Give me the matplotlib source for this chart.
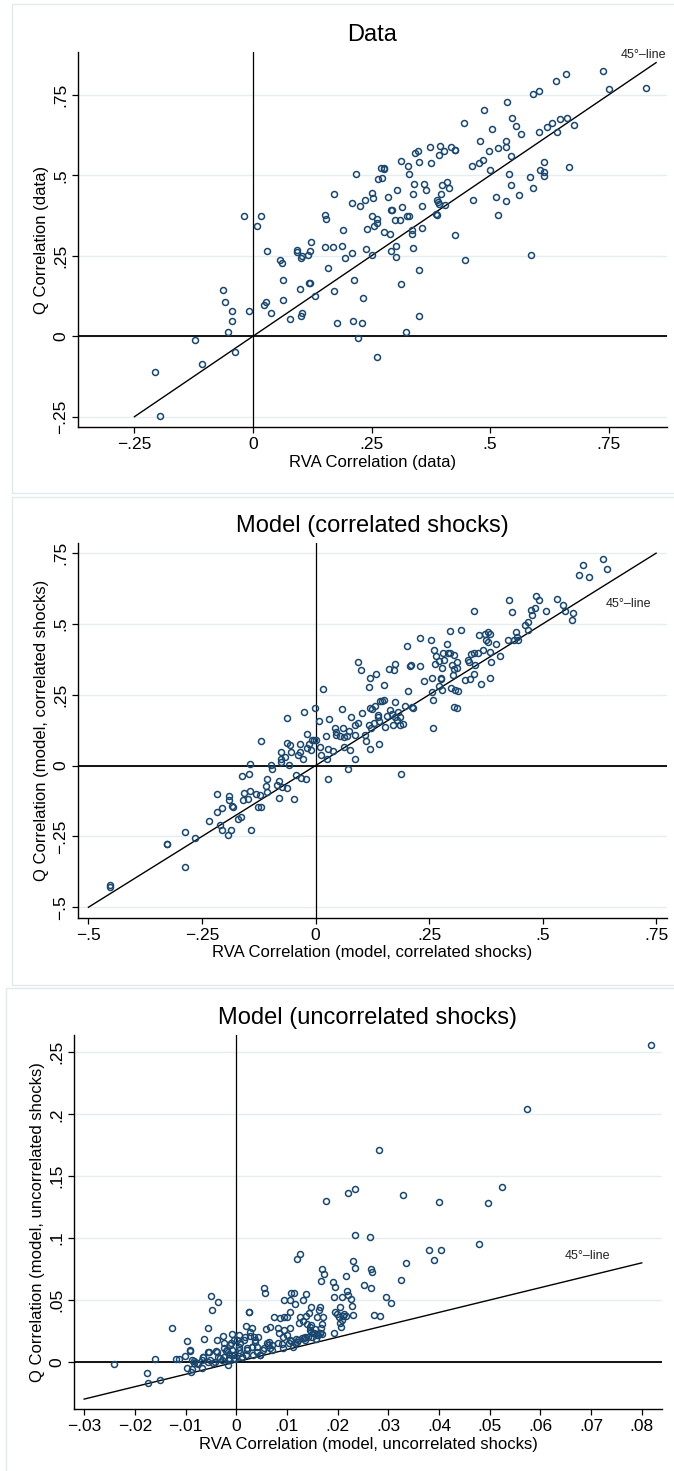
import matplotlib
matplotlib.use("Agg")
import matplotlib.pyplot as plt
from matplotlib.patches import Rectangle

plt.rcParams['font.family'] = ['Liberation Sans', 'DejaVu Sans']

# ---------------- Data ----------------
# Panel 1: data
data_x = [-0.207, -0.196, -0.122, -0.107, -0.037, -0.063, -0.059, -0.044, -0.044, -0.052,
          -0.008, -0.019, 0.016, 0.009, 0.030, 0.023, 0.028, 0.037, 0.057, 0.062,
          0.063, 0.063, 0.077, 0.092, 0.092, 0.101, 0.103, 0.100, 0.103, 0.102,
          0.115, 0.123, 0.121, 0.119, 0.121, 0.131, 0.152, 0.153, 0.152, 0.159,
          0.169, 0.171, 0.170, 0.177, 0.187, 0.189, 0.194, 0.208, 0.209, 0.213,
          0.211, 0.218, 0.226, 0.221, 0.229, 0.236, 0.239, 0.233, 0.241, 0.250,
          0.254, 0.251, 0.251, 0.255, 0.261, 0.261, 0.264, 0.269, 0.273, 0.276,
          0.277, 0.261, 0.276, 0.285, 0.288, 0.290, 0.291, 0.293, 0.300, 0.301,
          0.301, 0.303, 0.309, 0.313, 0.314, 0.312, 0.323, 0.324, 0.328, 0.326,
          0.330, 0.335, 0.336, 0.337, 0.338, 0.340, 0.342, 0.347, 0.349, 0.349,
          0.350, 0.357, 0.356, 0.361, 0.364, 0.374, 0.376, 0.385, 0.387, 0.389,
          0.391, 0.393, 0.394, 0.393, 0.396, 0.399, 0.402, 0.405, 0.409, 0.413,
          0.417, 0.425, 0.426, 0.427, 0.444, 0.446, 0.461, 0.464, 0.476, 0.478,
          0.485, 0.488, 0.497, 0.500, 0.505, 0.513, 0.516, 0.517, 0.533, 0.534,
          0.533, 0.536, 0.540, 0.543, 0.545, 0.547, 0.554, 0.561, 0.566, 0.585,
          0.586, 0.590, 0.591, 0.603, 0.603, 0.605, 0.613, 0.613, 0.614, 0.620,
          0.630, 0.638, 0.642, 0.648, 0.661, 0.663, 0.667, 0.676, 0.739, 0.750,
          0.829]
data_y = [-0.111, -0.247, -0.011, -0.086, -0.048, 0.143, 0.107, 0.079, 0.047, 0.012,
          0.078, 0.374, 0.375, 0.342, 0.266, 0.097, 0.106, 0.071, 0.237, 0.228,
          0.176, 0.111, 0.055, 0.269, 0.261, 0.243, 0.248, 0.148, 0.071, 0.062,
          0.253, 0.292, 0.264, 0.166, 0.164, 0.126, 0.376, 0.364, 0.276, 0.213,
          0.276, 0.441, 0.141, 0.042, 0.280, 0.331, 0.243, 0.413, 0.259, 0.176,
          0.047, 0.505, 0.406, -0.006, 0.041, 0.422, 0.270, 0.119, 0.332, 0.445,
          0.429, 0.375, 0.253, 0.343, 0.352, 0.365, 0.487, 0.524, 0.492, 0.518,
          0.524, -0.064, 0.325, 0.433, 0.317, 0.264, 0.391, 0.392, 0.360, 0.281,
          0.247, 0.455, 0.360, 0.543, 0.400, 0.161, 0.013, 0.372, 0.373, 0.528,
          0.503, 0.329, 0.319, 0.443, 0.274, 0.472, 0.569, 0.575, 0.541, 0.207,
          0.063, 0.405, 0.337, 0.473, 0.453, 0.588, 0.537, 0.379, 0.376, 0.422,
          0.418, 0.412, 0.592, 0.562, 0.441, 0.471, 0.576, 0.408, 0.479, 0.460,
          0.587, 0.580, 0.577, 0.315, 0.663, 0.237, 0.528, 0.422, 0.539, 0.605,
          0.546, 0.703, 0.575, 0.516, 0.645, 0.434, 0.376, 0.584, 0.605, 0.589,
          0.421, 0.728, 0.505, 0.560, 0.471, 0.677, 0.652, 0.438, 0.629, 0.495,
          0.251, 0.459, 0.753, 0.761, 0.636, 0.516, 0.542, 0.510, 0.497, 0.650,
          0.663, 0.793, 0.636, 0.675, 0.815, 0.679, 0.525, 0.656, 0.825, 0.768,
          0.772]

# Panel 2: model, correlated shocks
corr_x = [-0.453, -0.453, -0.326, -0.326, -0.288, -0.287, -0.265, -0.234, -0.217, -0.216,
          -0.210, -0.207, -0.206, -0.191, -0.190, -0.192, -0.187, -0.183, -0.182, -0.170,
          -0.165, -0.161, -0.159, -0.157, -0.146, -0.145, -0.148, -0.144, -0.142, -0.130,
          -0.127, -0.121, -0.122, -0.120, -0.107, -0.108, -0.107, -0.098, -0.095, -0.084,
          -0.081, -0.080, -0.077, -0.075, -0.075, -0.073, -0.067, -0.063, -0.063, -0.062,
          -0.059, -0.056, -0.054, -0.048, -0.044, -0.038, -0.035, -0.034, -0.031, -0.027,
          -0.026, -0.021, -0.019, -0.018, -0.014, -0.010, -0.008, -0.004, -0.001, 0.000,
          0.008, 0.010, 0.012, 0.016, 0.023, 0.025, 0.027, 0.027, 0.030, 0.038,
          0.044, 0.045, 0.046, 0.053, 0.059, 0.061, 0.063, 0.063, 0.069, 0.072,
          0.074, 0.076, 0.079, 0.086, 0.087, 0.087, 0.093, 0.094, 0.100, 0.102,
          0.109, 0.112, 0.117, 0.119, 0.118, 0.121, 0.121, 0.123, 0.125, 0.129,
          0.131, 0.134, 0.137, 0.138, 0.139, 0.140, 0.142, 0.146, 0.151, 0.151,
          0.153, 0.157, 0.162, 0.165, 0.168, 0.170, 0.172, 0.174, 0.176, 0.176,
          0.179, 0.181, 0.186, 0.186, 0.188, 0.193, 0.198, 0.202, 0.203, 0.209,
          0.211, 0.212, 0.214, 0.229, 0.231, 0.239, 0.255, 0.256, 0.257, 0.258,
          0.259, 0.262, 0.263, 0.266, 0.272, 0.273, 0.276, 0.277, 0.279, 0.279,
          0.280, 0.283, 0.290, 0.291, 0.297, 0.297, 0.299, 0.301, 0.303, 0.304,
          0.306, 0.306, 0.307, 0.311, 0.312, 0.312, 0.313, 0.321, 0.329, 0.336,
          0.338, 0.340, 0.343, 0.348, 0.348, 0.348, 0.352, 0.358, 0.361, 0.364,
          0.368, 0.373, 0.375, 0.380, 0.380, 0.384, 0.384, 0.386, 0.385, 0.397,
          0.407, 0.423, 0.426, 0.432, 0.438, 0.441, 0.443, 0.445, 0.462, 0.467,
          0.468, 0.474, 0.477, 0.484, 0.485, 0.493, 0.507, 0.531, 0.544, 0.550,
          0.564, 0.567, 0.580, 0.589, 0.602, 0.633, 0.642]
corr_y = [-0.420, -0.428, -0.275, -0.277, -0.235, -0.359, -0.256, -0.195, -0.099, -0.164,
          -0.208, -0.229, -0.149, -0.107, -0.122, -0.246, -0.226, -0.144, -0.147, -0.187,
          -0.180, -0.035, -0.121, -0.096, -0.028, 0.005, -0.118, -0.089, -0.227, -0.101,
          -0.146, -0.146, -0.102, 0.088, -0.046, -0.071, -0.094, 0.001, -0.013, -0.069,
          -0.053, -0.116, 0.012, 0.024, 0.047, -0.076, 0.029, 0.167, 0.080, -0.078,
          0.001, 0.074, 0.047, -0.118, -0.033, 0.036, 0.078, 0.048, -0.044, 0.022,
          0.188, -0.049, 0.113, 0.061, 0.076, 0.056, 0.089, 0.091, 0.204, 0.092,
          0.159, 0.065, 0.039, 0.271, 0.105, 0.024, 0.059, -0.047, 0.165, 0.051,
          0.133, 0.107, 0.120, 0.105, 0.199, 0.133, 0.102, 0.065, 0.106, -0.013,
          0.121, 0.054, 0.173, 0.022, 0.109, 0.142, 0.152, 0.365, 0.339, 0.187,
          0.107, 0.086, 0.279, 0.308, 0.145, 0.205, 0.060, 0.134, 0.200, 0.151,
          0.209, 0.325, 0.180, 0.172, 0.075, 0.158, 0.227, 0.229, 0.286, 0.232,
          0.136, 0.174, 0.340, 0.198, 0.181, 0.145, 0.339, 0.224, 0.359, 0.171,
          0.162, 0.189, 0.172, 0.145, -0.028, 0.147, 0.209, 0.421, 0.262, 0.351,
          0.355, 0.206, 0.204, 0.353, 0.449, 0.299, 0.445, 0.309, 0.261, 0.233,
          0.132, 0.408, 0.358, 0.387, 0.368, 0.280, 0.308, 0.305, 0.345, 0.268,
          0.399, 0.372, 0.428, 0.399, 0.399, 0.476, 0.273, 0.356, 0.321, 0.341,
          0.392, 0.208, 0.268, 0.365, 0.344, 0.202, 0.265, 0.480, 0.302, 0.374,
          0.365, 0.306, 0.395, 0.546, 0.325, 0.396, 0.355, 0.399, 0.460, 0.289,
          0.408, 0.465, 0.444, 0.473, 0.436, 0.465, 0.400, 0.367, 0.308, 0.431,
          0.388, 0.445, 0.584, 0.544, 0.445, 0.471, 0.454, 0.445, 0.496, 0.506,
          0.478, 0.548, 0.532, 0.556, 0.598, 0.586, 0.546, 0.589, 0.568, 0.547,
          0.515, 0.539, 0.672, 0.708, 0.667, 0.729, 0.693]

# Panel 3: model, uncorrelated shocks
unc_x = [0.0818, 0.0574, 0.0282, 0.0525, 0.0234, 0.0221, 0.0330, 0.0177, 0.0400, 0.0496,
         0.0234, 0.0263, 0.0478, 0.0381, 0.0404, 0.0391, 0.0335, 0.0125, 0.0119, 0.0230,
         0.0235, 0.0266, 0.0267, 0.0169, 0.0173, 0.0216, 0.0325, 0.0167, 0.0190, 0.0195,
         0.0253, 0.0265, 0.0055, 0.0056, 0.0218, 0.0220, 0.0295, 0.0305, 0.0192, 0.0209,
         0.0227, 0.0229, 0.0230, 0.0272, 0.0283, 0.0108, 0.0114, 0.0137, 0.0095, 0.0106,
         0.0132, 0.0116, 0.0148, 0.0165, -0.0049, -0.0036, -0.0047, -0.0126, -0.0055, -0.0098,
         -0.0064, -0.0092, -0.0102, -0.0118, -0.0112, -0.0161, -0.0241, -0.0176, -0.0174, -0.0151,
         -0.0098, -0.0088, -0.0089, -0.0084, -0.0075, -0.0067, -0.0066, -0.0056, -0.0053, -0.0045,
         -0.0039, -0.0037, -0.0031, -0.0026, -0.0025, -0.0020, -0.0017, -0.0015, -0.0014, -0.0011,
         -0.0008, -0.0008, -0.0005, -0.0003, 0.0002, 0.0006, 0.0006, 0.0008, 0.0012, 0.0015,
         0.0019, 0.0020, 0.0022, 0.0025, 0.0026, 0.0028, 0.0031, 0.0031, 0.0034, 0.0036,
         0.0037, 0.0042, 0.0043, 0.0046, 0.0052, 0.0058, 0.0060, 0.0063, 0.0064, 0.0066,
         0.0067, 0.0071, 0.0075, 0.0082, 0.0084, 0.0086, 0.0090, 0.0092, 0.0094, 0.0095,
         0.0100, 0.0100, 0.0104, 0.0106, 0.0106, 0.0109, 0.0115, 0.0118, 0.0121, 0.0124,
         0.0126, 0.0131, 0.0133, 0.0135, 0.0137, 0.0139, 0.0142, 0.0143, 0.0145, 0.0147,
         0.0148, 0.0150, 0.0154, 0.0156, 0.0158, 0.0159, 0.0162, 0.0164, 0.0165, 0.0168,
         0.0170, 0.0170, 0.0172, 0.0192, 0.0195, 0.0198, 0.0203, 0.0204, 0.0205, 0.0207,
         0.0209, 0.0210, 0.0213, 0.0216,
         -0.0091, -0.0088, -0.0084, -0.0078, -0.0068, -0.0065, -0.0055, -0.0051, -0.0042, -0.0038,
         -0.0035, -0.0028, -0.0025, -0.0025, -0.0018, -0.0015, -0.0012, -0.0009, -0.0005, -0.0005,
         0.0005, 0.0008, 0.0011, 0.0018, 0.0021, 0.0027, 0.0031, 0.0037, 0.0041, 0.0047,
         0.0054, 0.0070, 0.0083, 0.0093, 0.0106, 0.0113, 0.0120, 0.0129, 0.0136, 0.0146,
         0.0152, 0.0159, 0.0166]
unc_y = [0.2560, 0.2045, 0.1710, 0.1414, 0.1395, 0.1366, 0.1347, 0.1301, 0.1293, 0.1285,
         0.1029, 0.1010, 0.0951, 0.0905, 0.0905, 0.0827, 0.0797, 0.0870, 0.0830, 0.0819,
         0.0760, 0.0752, 0.0725, 0.0754, 0.0714, 0.0695, 0.0660, 0.0657, 0.0647, 0.0603,
         0.0625, 0.0595, 0.0595, 0.0560, 0.0574, 0.0541, 0.0523, 0.0474, 0.0523, 0.0528,
         0.0506, 0.0455, 0.0377, 0.0377, 0.0369, 0.0558, 0.0558, 0.0550, 0.0501, 0.0498,
         0.0498, 0.0469, 0.0447, 0.0447, 0.0536, 0.0488, 0.0423, 0.0277, 0.0277, 0.0170,
         0.0186, 0.0089, 0.0046, 0.0027, 0.0027, 0.0024, -0.0013, -0.0092, -0.0170, -0.0143,
         -0.0051, -0.0054, -0.0078, 0.0008, -0.0019, -0.0046, 0.0043, 0.0003, 0.0081, -0.0011,
         0.0089, 0.0178, 0.0030, 0.0210, 0.0116, 0.0089, -0.0024, 0.0062, 0.0030, 0.0151,
         0.0226, 0.0097, 0.0057, 0.0022, 0.0180, 0.0218, 0.0124, 0.0070, 0.0043, 0.0178,
         0.0057, 0.0294, 0.0116, 0.0407, 0.0401, 0.0210, 0.0277, 0.0124, 0.0057, 0.0205,
         0.0164, 0.0124, 0.0199, 0.0057, 0.0097, 0.0264, 0.0151, 0.0137, 0.0164, 0.0286,
         0.0110, 0.0097, 0.0366, 0.0272, 0.0232, 0.0353, 0.0143, 0.0116, 0.0366, 0.0259,
         0.0218, 0.0366, 0.0151, 0.0272, 0.0404, 0.0170, 0.0151, 0.0183, 0.0178, 0.0313,
         0.0366, 0.0331, 0.0197, 0.0178, 0.0372, 0.0304, 0.0205, 0.0393, 0.0280, 0.0245,
         0.0299, 0.0205, 0.0232, 0.0264, 0.0183, 0.0366, 0.0218, 0.0420, 0.0232, 0.0272,
         0.0307, 0.0226, 0.0366, 0.0237, 0.0401, 0.0388, 0.0361, 0.0447, 0.0313, 0.0286,
         0.0339, 0.0374, 0.0385, 0.0372,
         0.0097, 0.0016, -0.0011, -0.0011, 0.0016, 0.0043, 0.0084, 0.0016, 0.0003, 0.0084,
         0.0043, 0.0016, 0.0151, 0.0043, 0.0097, 0.0016, 0.0137, 0.0057, 0.0178, 0.0030,
         0.0097, 0.0151, 0.0043, 0.0205, 0.0097, 0.0245, 0.0124, 0.0178, 0.0084, 0.0057,
         0.0110, 0.0137, 0.0151, 0.0205, 0.0178, 0.0124, 0.0164, 0.0191, 0.0205, 0.0259,
         0.0232, 0.0218, 0.0232]

# 45-degree reference line end points
line1 = [-0.25, 0.85]
line2 = [-0.5, 0.75]
line3 = [-0.03, 0.08]

titles = ["Data", "Model (correlated shocks)", "Model (uncorrelated shocks)"]
xlabels = ["RVA Correlation (data)", "RVA Correlation (model, correlated shocks)",
           "RVA Correlation (model, uncorrelated shocks)"]
ylabels = ["Q Correlation (data)", "Q Correlation (model, correlated shocks)",
           "Q Correlation (model, uncorrelated shocks)"]

ticks1 = [-0.25, 0, 0.25, 0.5, 0.75]
ticklab1 = ["\u2212.25", "0", ".25", ".5", ".75"]
ticks2 = [-0.5, -0.25, 0, 0.25, 0.5, 0.75]
ticklab2 = ["\u2212.5", "\u2212.25", "0", ".25", ".5", ".75"]
xticks3 = [-0.03, -0.02, -0.01, 0, 0.01, 0.02, 0.03, 0.04, 0.05, 0.06, 0.07, 0.08]
xticklab3 = ["\u2212.03", "\u2212.02", "\u2212.01", "0", ".01", ".02", ".03", ".04",
             ".05", ".06", ".07", ".08"]
yticks3 = [0, 0.05, 0.1, 0.15, 0.2, 0.25]
yticklab3 = ["0", ".05", ".1", ".15", ".2", ".25"]

# ---------------- Figure ----------------
W, H = 674, 1471
DPI = 100
fig = plt.figure(figsize=(W / DPI, H / DPI), dpi=DPI)
fig.patch.set_facecolor("white")

NAVY = "#1a476f"
GRID = "#e4edf0"
FRAME = "#e3eaee"


def rect(l, t, r, b):
    return [l / W, 1 - b / H, (r - l) / W, (b - t) / H]


# faint outer frames of each graph
for (l, t, r, b) in [(12, 4, 676, 493), (12, 497, 676, 985), (6, 988, 676, 1473)]:
    fig.patches.append(Rectangle((l / W, 1 - b / H), (r - l) / W, (b - t) / H,
                                 transform=fig.transFigure, fill=False,
                                 edgecolor=FRAME, linewidth=1.0))

panels = [
    dict(pos=(78, 52, 667, 427), x=data_x, y=data_y, line=line1,
         xlim=(-0.369, 0.873), ylim=(-0.282, 0.883),
         xt=ticks1, xtl=ticklab1, yt=ticks1, ytl=ticklab1, lab=(0.776, 0.873)),
    dict(pos=(78, 543, 667, 918), x=corr_x, y=corr_y, line=line2,
         xlim=(-0.523, 0.774), ylim=(-0.538, 0.786),
         xt=ticks2, xtl=ticklab2, yt=ticks2, ytl=ticklab2, lab=(0.640, 0.572)),
    dict(pos=(74, 1035, 662, 1409), x=unc_x, y=unc_y, line=line3,
         xlim=(-0.032, 0.0840), ylim=(-0.038, 0.264),
         xt=xticks3, xtl=xticklab3, yt=yticks3, ytl=yticklab3, lab=(0.0648, 0.0857)),
]

for i, p in enumerate(panels):
    ax = fig.add_axes(rect(*p["pos"]))
    ax.set_xlim(*p["xlim"])
    ax.set_ylim(*p["ylim"])
    for s in ["top", "right"]:
        ax.spines[s].set_visible(False)
    for s in ["left", "bottom"]:
        ax.spines[s].set_linewidth(1.0)
        ax.spines[s].set_color("black")
    ax.set_yticks(p["yt"])
    ax.set_yticklabels(p["ytl"], rotation=90, va="center", fontsize=12.5)
    ax.set_xticks(p["xt"])
    ax.set_xticklabels(p["xtl"], fontsize=12.5)
    ax.tick_params(direction="out", length=4.5, width=0.9, pad=2.5)
    ax.yaxis.grid(True, color=GRID, linewidth=1.0)
    ax.set_axisbelow(True)
    ax.axhline(0, color="black", linewidth=1.3, zorder=2)
    ax.axvline(0, color="black", linewidth=0.9, zorder=2)
    ax.plot(p["line"], p["line"], color="black", linewidth=1.0, zorder=3)
    ax.plot(p["x"], p["y"], linestyle="none", marker="o", markersize=4.3,
            markerfacecolor="none", markeredgecolor=NAVY, markeredgewidth=1.1, zorder=4)
    ax.text(p["lab"][0], p["lab"][1], "45\u00b0\u2013line", fontsize=9,
            ha="left", va="center", color="#222222", zorder=5, clip_on=False)
    ax.set_title(titles[i], fontsize=17, pad=8)
    ax.set_xlabel(xlabels[i], fontsize=12, labelpad=2)
    ax.set_ylabel(ylabels[i], fontsize=12, labelpad=3)

fig.savefig("out.png", dpi=DPI)
